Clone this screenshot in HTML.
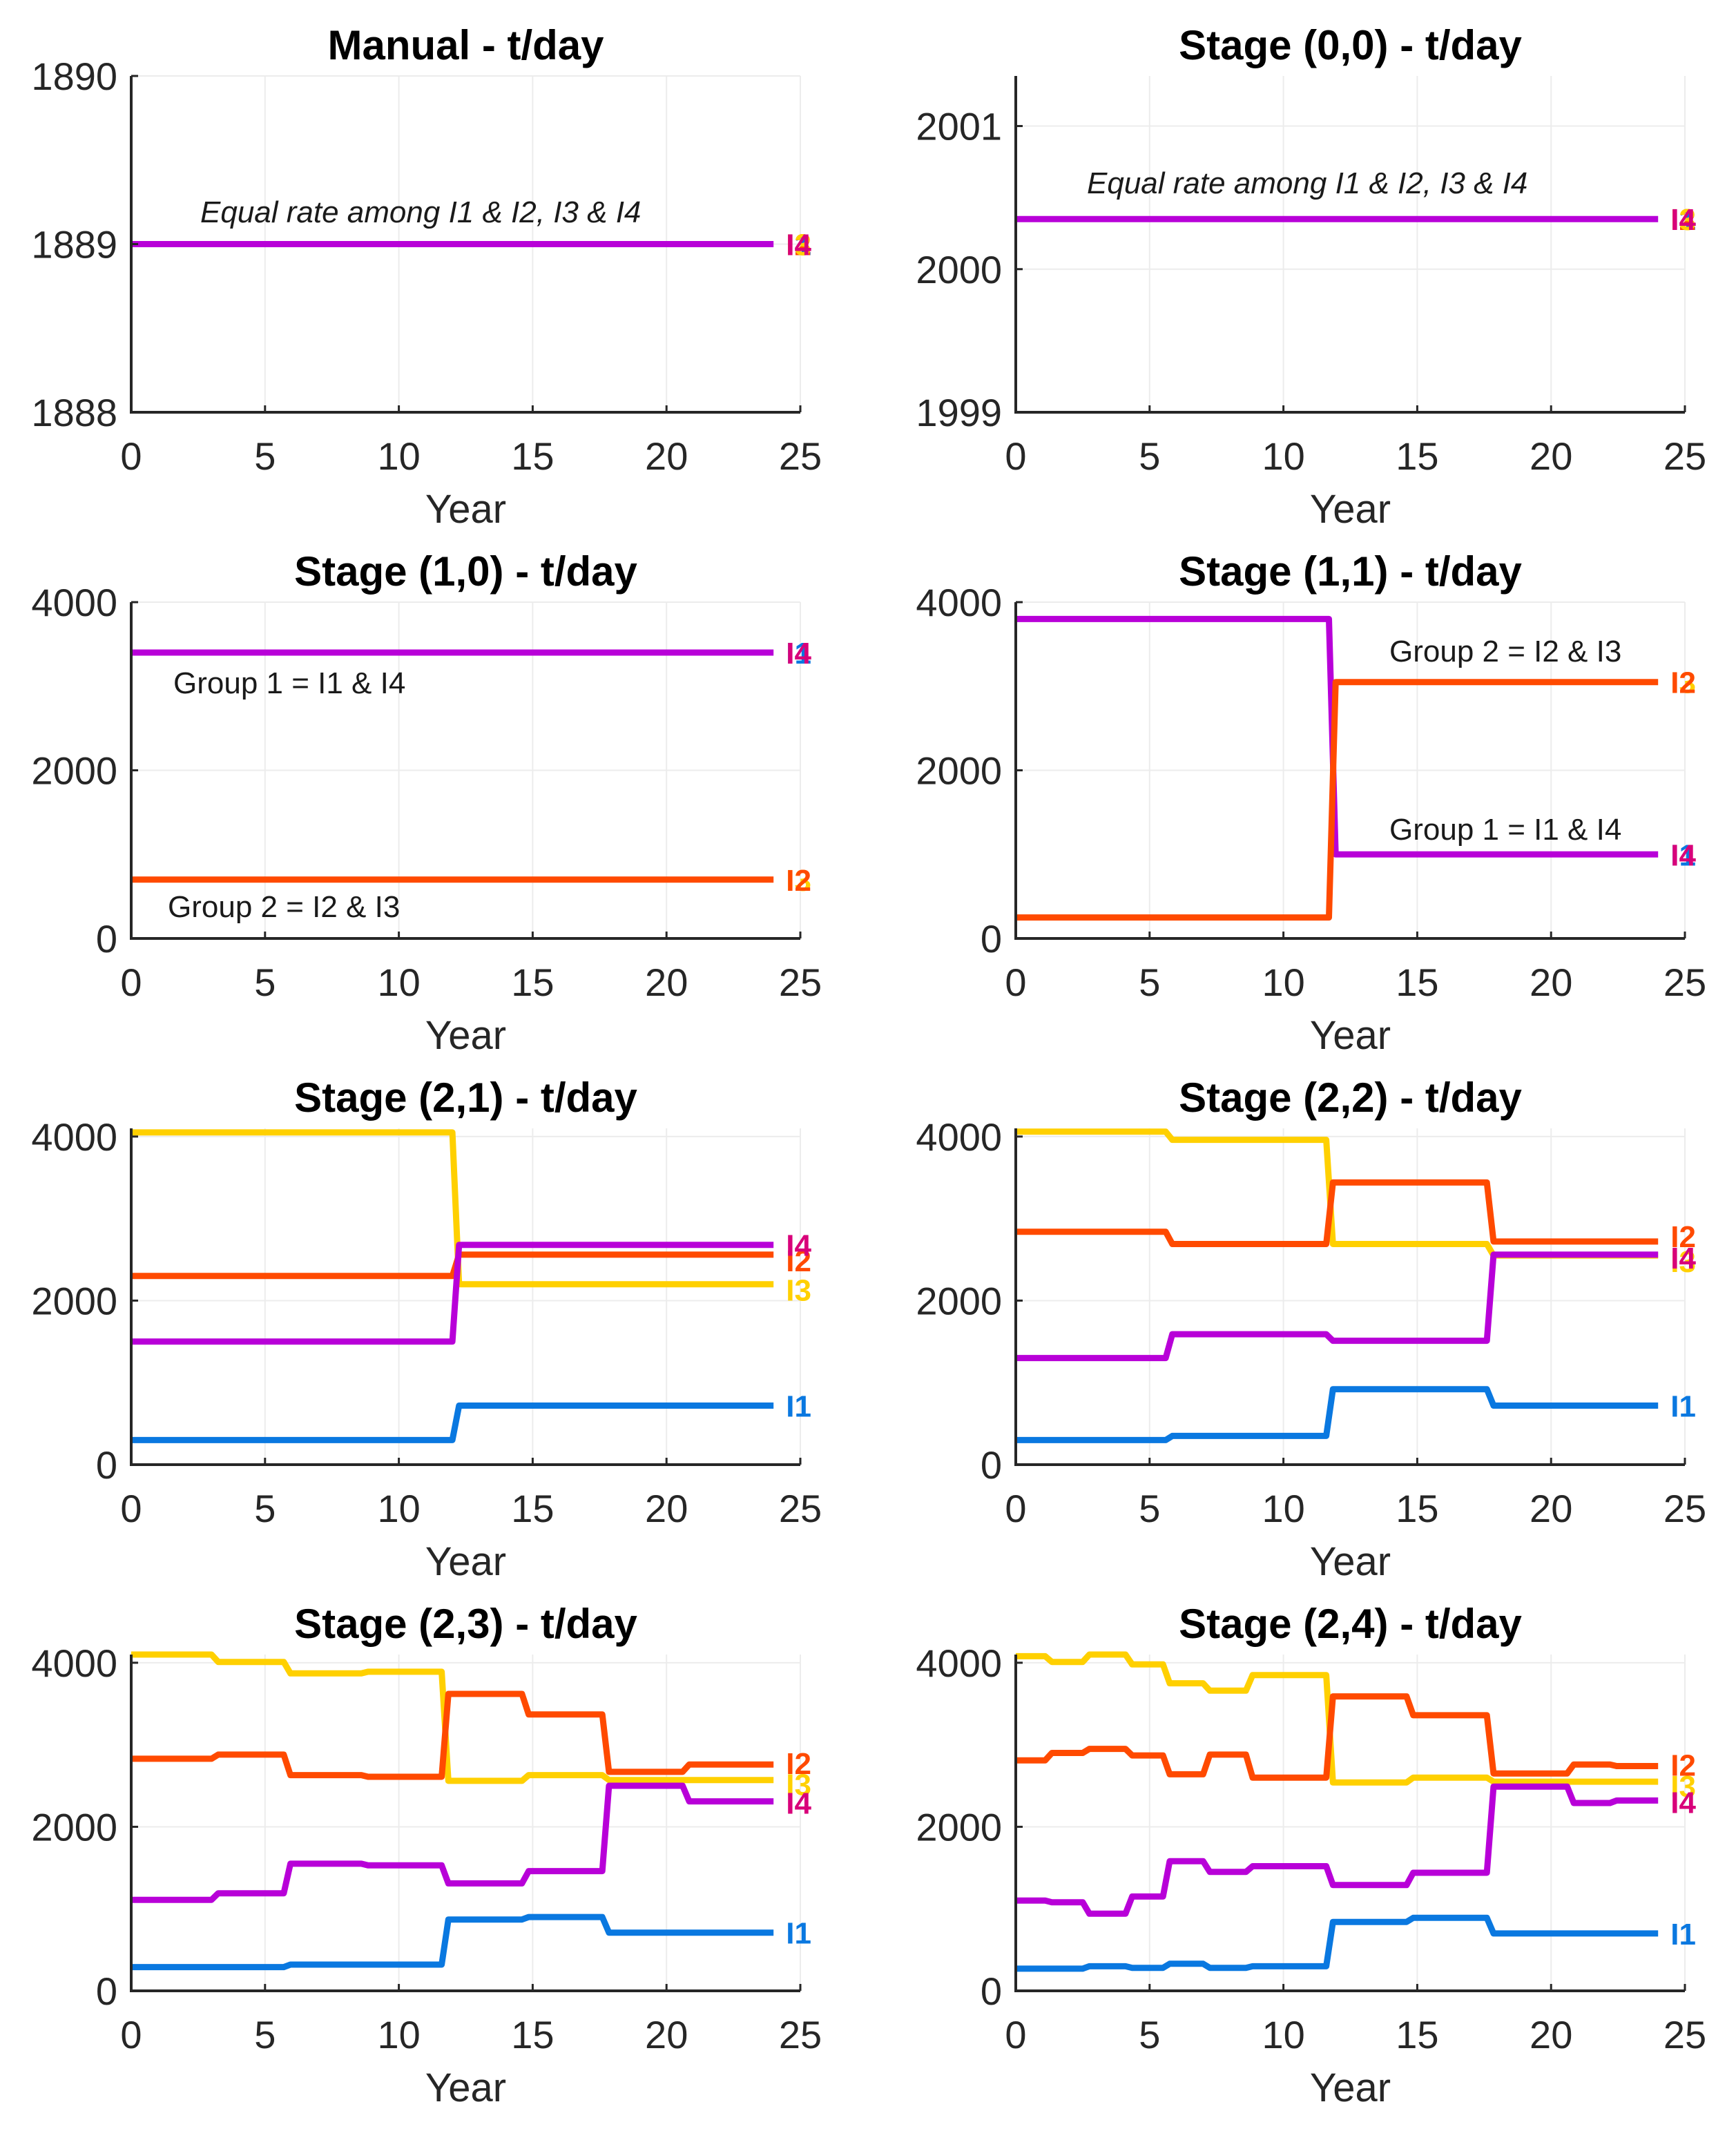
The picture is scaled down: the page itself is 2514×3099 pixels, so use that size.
<!DOCTYPE html>
<html><head><meta charset="utf-8"><style>
html,body{margin:0;padding:0;background:#fff}
svg text{font-family:"Liberation Sans",sans-serif}
</style></head><body>
<svg id="fig" xmlns="http://www.w3.org/2000/svg" width="2514" height="3094" viewBox="0 0 2514 3094"></svg>
<script>
// ---- data ----
const xTicks=[0,5,10,15,20,25];
const xEnd=24;
const colI1="#0a78e0", colI2="#ff4a00", colI3="#ffd000", colI4="#b800d8";
const labI4="#d8007a";
// Manual
const p0_yTicks=[1888,1889,1890];
const p0_all_breaks=[0]; const p0_all_vals=[1889];
// Stage (0,0)
const p1_yTicks=[1999,2000,2001];
const p1_all_breaks=[0]; const p1_all_vals=[2000.35];
// Stage (1,0)
const p2_yTicks=[0,2000,4000];
const p2_g1_breaks=[0]; const p2_g1_vals=[3400];
const p2_g2_breaks=[0]; const p2_g2_vals=[700];
// Stage (1,1)
const p3_g1_breaks=[0,11.7]; const p3_g1_vals=[3800,1000];
const p3_g2_breaks=[0,11.7]; const p3_g2_vals=[250,3050];
// Stage (2,1)
const p4_I1_breaks=[0,12]; const p4_I1_vals=[300,720];
const p4_I2_breaks=[0,12]; const p4_I2_vals=[2300,2560];
const p4_I3_breaks=[0,12]; const p4_I3_vals=[4050,2200];
const p4_I4_breaks=[0,12]; const p4_I4_vals=[1500,2680];
// Stage (2,2)
const p5_breaks=[0,5.6,11.6,17.6];
const p5_I1_vals=[300,350,920,720];
const p5_I2_vals=[2840,2690,3440,2720];
const p5_I3_vals=[4060,3960,2690,2550];
const p5_I4_vals=[1300,1590,1510,2560];
// Stage (2,3)
const p6_I1_breaks=[0,5.7,11.6,14.6,17.6]; const p6_I1_vals=[290,320,870,900,710];
const p6_I2_breaks=[0,3,5.7,8.6,11.6,14.6,17.6,20.6]; const p6_I2_vals=[2830,2880,2630,2610,3620,3370,2670,2760];
const p6_I3_breaks=[0,3,5.7,8.6,11.6,14.6,17.6]; const p6_I3_vals=[4100,4010,3870,3890,2560,2630,2570];
const p6_I4_breaks=[0,3,5.7,8.6,11.6,14.6,17.6,20.6]; const p6_I4_vals=[1110,1190,1550,1530,1310,1460,2500,2310];
// Stage (2,4)
const p7_breaks=[0,1.1,2.5,4.1,5.5,7,8.6,11.6,14.6,17.6,20.6,22.2];
const p7_I1_vals=[270,270,300,280,330,280,300,840,890,700,700,700];
const p7_I2_vals=[2810,2900,2950,2870,2640,2880,2600,3590,3360,2650,2760,2740];
const p7_I3_vals=[4080,4010,4100,3980,3750,3660,3850,2540,2600,2550,2550,2550];
const p7_I4_vals=[1100,1080,940,1150,1580,1450,1520,1290,1440,2490,2290,2320];
const bigTicks=[0,2000,4000];

// ---- layout ----
const NS="http://www.w3.org/2000/svg";
const svg=document.getElementById('fig');
const colX=[190,1471], W=969, H=487, rowY=[110,872,1634,2396];
function el(tag,attrs,parent){const e=document.createElementNS(NS,tag);for(const k in attrs)e.setAttribute(k,attrs[k]);(parent||svg).appendChild(e);return e;}

function panel(idx,title,ymin,ymax,yTicks,series,notes){
  const x0=colX[idx%2], y0=rowY[Math.floor(idx/2)];
  const g=el('g',{});
  
  
  const sx=v=>x0+v/25*W, sy=v=>y0+H-(v-ymin)/(ymax-ymin)*H;
  xTicks.forEach(t=>{const l=el('line',{x1:sx(t),x2:sx(t),y1:y0,y2:y0+H,stroke:'#ececec','stroke-width':2},g);
    });
  yTicks.forEach(t=>{const l=el('line',{x1:x0,x2:x0+W,y1:sy(t),y2:sy(t),stroke:'#ececec','stroke-width':2},g);
    });
  series.forEach(s=>{
    let pts=[[0,s.vals[0]]];
    for(let i=1;i<s.breaks.length;i++){pts.push([s.breaks[i],s.vals[i-1]]);pts.push([s.breaks[i]+0.25,s.vals[i]]);}
    pts.push([xEnd,s.vals[s.vals.length-1]]);
    const p=el('polyline',{points:pts.map(p=>sx(p[0]).toFixed(1)+','+sy(p[1]).toFixed(1)).join(' '),fill:'none',stroke:s.color,'stroke-width':9,'stroke-linejoin':'round'},g);
    
  });
  series.forEach(s=>{
    (s.labels||[]).forEach(lb=>{
      const t=el('text',{x:sx(xEnd)+18,y:sy(s.vals[s.vals.length-1])+(lb.dy||16),'font-size':44,'font-weight':'bold',fill:lb.color},g);
      t.textContent=lb.text;
    });
  });
  const ax=el('path',{d:`M${x0},${y0} L${x0},${y0+H} L${x0+W},${y0+H}`,fill:'none',stroke:'#262626','stroke-width':4},g);
  
  xTicks.forEach(t=>{el('line',{x1:sx(t),x2:sx(t),y1:y0+H,y2:y0+H-10,stroke:'#262626','stroke-width':3},g);
    const tx=el('text',{x:sx(t),y:y0+H+83,'font-size':56,'text-anchor':'middle',fill:'#262626'},g);tx.textContent=t;
    });
  yTicks.forEach(t=>{el('line',{x1:x0,x2:x0+10,y1:sy(t),y2:sy(t),stroke:'#262626','stroke-width':3},g);
    const tx=el('text',{x:x0-20,y:sy(t)+20,'font-size':56,'text-anchor':'end',fill:'#262626'},g);tx.textContent=t;
    });
  const tt=el('text',{x:x0+W/2,y:y0-24,'font-size':60,'font-weight':'bold','text-anchor':'middle',fill:'#000'},g);tt.textContent=title;
  
  const xl=el('text',{x:x0+W/2,y:y0+H+160,'font-size':58,'text-anchor':'middle',fill:'#262626'},g);xl.textContent='Year';
  
  (notes||[]).forEach(n=>{const t=el('text',{x:x0+n.dx,y:y0+n.dy,'font-size':44,'font-style':n.italic?'italic':'normal',fill:'#1a1a1a'},g);
    t.textContent=n.text;});
}
const L4=[{text:'I1',color:colI1},{text:'I2',color:colI2},{text:'I3',color:colI3},{text:'I4',color:labI4}];
panel(0,'Manual - t/day',1888,1890,p0_yTicks,[{name:'all',color:colI4,breaks:p0_all_breaks,vals:p0_all_vals,labels:L4}],
  [{text:'Equal rate among I1 & I2, I3 & I4',dx:100,dy:212,italic:true}]);
panel(1,'Stage (0,0) - t/day',1999,2001.35,p1_yTicks,[{name:'all',color:colI4,breaks:p1_all_breaks,vals:p1_all_vals,labels:L4}],
  [{text:'Equal rate among I1 & I2, I3 & I4',dx:103,dy:170,italic:true}]);
panel(2,'Stage (1,0) - t/day',0,4000,p2_yTicks,[
  {name:'group1',color:colI4,breaks:p2_g1_breaks,vals:p2_g1_vals,labels:[{text:'I1',color:colI1},{text:'I4',color:labI4}]},
  {name:'group2',color:colI2,breaks:p2_g2_breaks,vals:p2_g2_vals,labels:[{text:'I3',color:colI3},{text:'I2',color:colI2}]}],
  [{text:'Group 1 = I1 & I4',dx:61,dy:132},{text:'Group 2 = I2 & I3',dx:53,dy:456}]);
panel(3,'Stage (1,1) - t/day',0,4000,bigTicks,[
  {name:'group1',color:colI4,breaks:p3_g1_breaks,vals:p3_g1_vals,labels:[{text:'I1',color:colI1},{text:'I4',color:labI4}]},
  {name:'group2',color:colI2,breaks:p3_g2_breaks,vals:p3_g2_vals,labels:[{text:'I3',color:colI3},{text:'I2',color:colI2}]}],
  [{text:'Group 2 = I2 & I3',dx:541,dy:86},{text:'Group 1 = I1 & I4',dx:541,dy:344}]);
panel(4,'Stage (2,1) - t/day',0,4100,bigTicks,[
  {name:'i3',color:colI3,breaks:p4_I3_breaks,vals:p4_I3_vals,labels:[{text:'I3',color:colI3,dy:24}]},
  {name:'i2',color:colI2,breaks:p4_I2_breaks,vals:p4_I2_vals,labels:[{text:'I2',color:colI2,dy:24}]},
  {name:'i4',color:colI4,breaks:p4_I4_breaks,vals:p4_I4_vals,labels:[{text:'I4',color:labI4,dy:16}]},
  {name:'i1',color:colI1,breaks:p4_I1_breaks,vals:p4_I1_vals,labels:[{text:'I1',color:colI1}]}]);
panel(5,'Stage (2,2) - t/day',0,4100,bigTicks,[
  {name:'i3',color:colI3,breaks:p5_breaks,vals:p5_I3_vals,labels:[{text:'I3',color:colI3,dy:24}]},
  {name:'i2',color:colI2,breaks:p5_breaks,vals:p5_I2_vals,labels:[{text:'I2',color:colI2,dy:8}]},
  {name:'i4',color:colI4,breaks:p5_breaks,vals:p5_I4_vals,labels:[{text:'I4',color:labI4,dy:20}]},
  {name:'i1',color:colI1,breaks:p5_breaks,vals:p5_I1_vals,labels:[{text:'I1',color:colI1}]}]);
panel(6,'Stage (2,3) - t/day',0,4100,bigTicks,[
  {name:'i3',color:colI3,breaks:p6_I3_breaks,vals:p6_I3_vals,labels:[{text:'I3',color:colI3,dy:22}]},
  {name:'i2',color:colI2,breaks:p6_I2_breaks,vals:p6_I2_vals,labels:[{text:'I2',color:colI2,dy:14}]},
  {name:'i4',color:colI4,breaks:p6_I4_breaks,vals:p6_I4_vals,labels:[{text:'I4',color:labI4,dy:18}]},
  {name:'i1',color:colI1,breaks:p6_I1_breaks,vals:p6_I1_vals,labels:[{text:'I1',color:colI1}]}]);
panel(7,'Stage (2,4) - t/day',0,4100,bigTicks,[
  {name:'i3',color:colI3,breaks:p7_breaks,vals:p7_I3_vals,labels:[{text:'I3',color:colI3,dy:22}]},
  {name:'i2',color:colI2,breaks:p7_breaks,vals:p7_I2_vals,labels:[{text:'I2',color:colI2,dy:14}]},
  {name:'i4',color:colI4,breaks:p7_breaks,vals:p7_I4_vals,labels:[{text:'I4',color:labI4,dy:18}]},
  {name:'i1',color:colI1,breaks:p7_breaks,vals:p7_I1_vals,labels:[{text:'I1',color:colI1}]}]);
</script>
</body></html>
